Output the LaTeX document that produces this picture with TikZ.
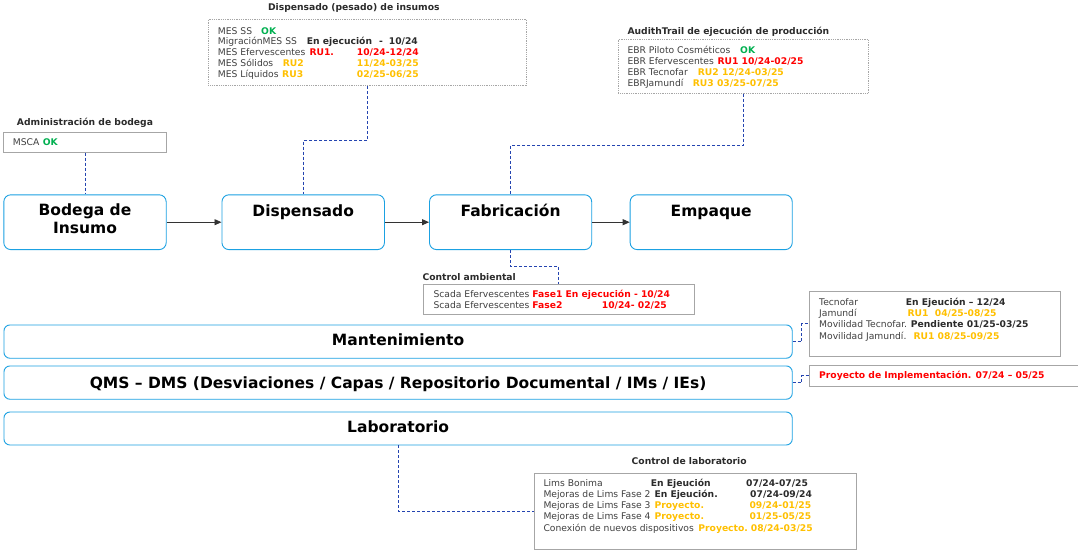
\documentclass[tikz,border=0pt]{standalone}
\usepackage{fontspec}
\setmainfont{DejaVu Sans}
\usetikzlibrary{arrows.meta}

\definecolor{boxblue}{HTML}{1BA1E2}
\definecolor{notegray}{HTML}{A6A6A6}
\definecolor{linkblue}{HTML}{2444B0}
\definecolor{arrowgray}{HTML}{333333}
\definecolor{labgray}{HTML}{404040}
\definecolor{darktxt}{HTML}{2B2B2B}
\definecolor{okgreen}{HTML}{00B050}
\definecolor{rured}{HTML}{FF0000}
\definecolor{ruorange}{HTML}{FFC000}

\newcommand{\fsmall}{\fontsize{9.2}{11}\selectfont}
\newcommand{\fbig}{\fontsize{15.5}{18}\selectfont\bfseries}

\tikzset{
  mainbox/.style={draw=boxblue, line width=0.9pt, rounded corners=7pt, fill=white, inner sep=0pt},
  notebox/.style={draw=notegray, line width=0.6pt, fill=white, inner sep=0pt},
  dotbox/.style={notebox, dash pattern=on 1pt off 0.8pt},
  ln/.style={anchor=west, inner sep=0pt, font=\fsmall, text=labgray, text height=6.7pt, text depth=0pt},
  okT/.style={ln, font=\fsmall\bfseries, text=okgreen},
  rT/.style={ln, font=\fsmall\bfseries, text=rured},
  oT/.style={ln, font=\fsmall\bfseries, text=ruorange},
  dT/.style={ln, font=\fsmall\bfseries, text=darktxt},
  hd/.style={inner sep=0pt, font=\fsmall\bfseries, text=darktxt, text height=6.7pt, text depth=0pt},
  bigT/.style={inner sep=0pt, font=\fbig, text=black, text height=11.3pt, text depth=0pt},
  link/.style={draw=linkblue, line width=0.8pt, dash pattern=on 3pt off 2pt},
  flow/.style={draw=arrowgray, line width=0.9pt, -{Triangle[length=7pt,width=6pt]}}
}

\begin{document}
\begin{tikzpicture}[x=1pt, y=-1pt]
\useasboundingbox[fill=white] (0,0) rectangle (1078,551);

% ---------- process chain ----------
\node[mainbox, minimum width=162.4pt, minimum height=54.8pt] (bodega) at (85,222.2) {};
\node[mainbox, minimum width=162.5pt, minimum height=54.8pt] (disp) at (303.2,222.2) {};
\node[mainbox, minimum width=162.2pt, minimum height=54.8pt] (fab) at (510.6,222.2) {};
\node[mainbox, minimum width=162.1pt, minimum height=54.8pt] (emp) at (711.2,222.2) {};

\node[bigT] (bodegaT1) at (85,210) {Bodega de};
\node[bigT] (bodegaT2) at (85,228.3) {Insumo};
\node[bigT] (dispT) at (303.2,210.7) {Dispensado};
\node[bigT] (fabT) at (510.6,210.7) {Fabricación};
\node[bigT] (empT) at (711.2,210.7) {Empaque};

\draw[flow] (bodega.east) -- (disp.west);
\draw[flow] (disp.east) -- (fab.west);
\draw[flow] (fab.east) -- (emp.west);

% ---------- support processes ----------
\node[mainbox, rounded corners=6pt, minimum width=788.3pt, minimum height=33.3pt] (mant) at (398.1,341.6) {};
\node[mainbox, rounded corners=6pt, minimum width=788.3pt, minimum height=33.3pt] (qms) at (398.1,382.6) {};
\node[mainbox, rounded corners=6pt, minimum width=788.3pt, minimum height=33pt] (lab) at (398.1,428.5) {};

\node[bigT] (mantT) at (398.1,340) {Mantenimiento};
\node[bigT] (qmsT) at (398.1,382.7) {QMS – DMS (Desviaciones / Capas / Repositorio Documental / IMs / IEs)};
\node[bigT] (labT) at (398.1,426.7) {Laboratorio};

% ---------- Administración de bodega ----------
\node[hd] (adminH) at (85,122.3) {Administración de bodega};
\node[notebox, minimum width=163pt, minimum height=20pt] (adminbox) at (85,142.3) {};
\node[ln] (a1) at (12.7,142.3) {MSCA};
\node[okT] (a1s) at (42.7,142.3) {OK};

% ---------- Dispensado (pesado) de insumos ----------
\node[hd] (dispH) at (353.8,7.3) {Dispensado (pesado) de insumos};
\node[dotbox, minimum width=318.4pt, minimum height=66.4pt] (dispbox) at (367.5,52.5) {};
\node[ln] (d1) at (217.7,30.8) {MES SS};
\node[okT] (d1s) at (261,30.8) {OK};
\node[ln] (d2) at (217.7,41.6) {MigraciónMES SS};
\node[dT] (d2s) at (306.7,41.6) {En ejecución};
\node[dT] (d2m) at (379,41.6) {-};
\node[dT] (d2d) at (388.7,41.6) {10/24};
\node[ln] (d3) at (217.7,52.4) {MES Efervescentes};
\node[rT] (d3s) at (309.3,52.4) {RU1.};
\node[rT] (d3d) at (356.7,52.4) {10/24-12/24};
\node[ln] (d4) at (217.7,63.2) {MES Sólidos};
\node[oT] (d4s) at (282.7,63.2) {RU2};
\node[oT] (d4d) at (356.7,63.2) {11/24-03/25};
\node[ln] (d5) at (217.7,74) {MES Líquidos};
\node[oT] (d5s) at (282,74) {RU3};
\node[oT] (d5d) at (356.7,74) {02/25-06/25};

% ---------- AudithTrail ----------
\node[hd, anchor=west] (audH) at (627.3,30.7) {AudithTrail de ejecución de producción};
\node[dotbox, minimum width=250pt, minimum height=54pt] (audbox) at (743.3,66.3) {};
\node[ln] (e1) at (627.3,50) {EBR Piloto Cosméticos};
\node[okT] (e1s) at (740,50) {OK};
\node[ln] (e2) at (627.3,61.4) {EBR Efervescentes};
\node[rT] (e2s) at (717.3,61.4) {RU1 10/24-02/25};
\node[ln] (e3) at (627.3,72.6) {EBR Tecnofar};
\node[oT] (e3s) at (697.7,72.6) {RU2 12/24-03/25};
\node[ln] (e4) at (627.3,83.6) {EBRJamundí};
\node[oT] (e4s) at (692.7,83.6) {RU3 03/25-07/25};

% ---------- Control ambiental ----------
\node[hd, anchor=west] (ambH) at (422.3,277.3) {Control ambiental};
\node[notebox, minimum width=270.7pt, minimum height=30.3pt] (ambbox) at (558.7,299.2) {};
\node[ln] (c1) at (433.3,294) {Scada Efervescentes};
\node[rT] (c1s) at (532.2,294) {Fase1 En ejecución - 10/24};
\node[ln] (c2) at (433.3,305) {Scada Efervescentes};
\node[rT] (c2s) at (532.2,305) {Fase2};
\node[rT] (c2d) at (601.7,305) {10/24- 02/25};

% ---------- Mantenimiento note ----------
\node[notebox, minimum width=250.7pt, minimum height=65pt] (mantbox) at (934.7,323.5) {};
\node[ln] (m1) at (819,301.7) {Tecnofar};
\node[dT] (m1s) at (905.7,301.7) {En Ejeución – 12/24};
\node[ln] (m2) at (819,312.7) {Jamundí};
\node[oT] (m2s) at (907.3,312.7) {RU1\ \ 04/25-08/25};
\node[ln] (m3) at (819,324) {Movilidad Tecnofar.};
\node[dT] (m3s) at (910.7,324) {Pendiente 01/25-03/25};
\node[ln] (m4) at (819,335.7) {Movilidad Jamundí.};
\node[oT] (m4s) at (913.3,335.7) {RU1 08/25-09/25};

% ---------- QMS note ----------
\node[notebox, minimum width=280.7pt, minimum height=21pt] (proybox) at (949.7,375.5) {};
\node[rT] (p1) at (819,375.5) {Proyecto de Implementación. 07/24 – 05/25};

% ---------- Control de laboratorio ----------
\node[hd] (labH) at (689.2,460.7) {Control de laboratorio};
\node[notebox, minimum width=322.4pt, minimum height=76pt] (labbox) at (695.5,511.3) {};
\node[ln] (l1) at (543.3,483.3) {Lims Bonima};
\node[dT] (l1s) at (650.7,483.3) {En Ejeución};
\node[dT] (l1d) at (746,483.3) {07/24-07/25};
\node[ln] (l2) at (543.3,494.3) {Mejoras de Lims Fase 2};
\node[dT] (l2s) at (654.3,494.3) {En Ejeución.};
\node[dT] (l2d) at (750,494.3) {07/24-09/24};
\node[ln] (l3) at (543.3,505.3) {Mejoras de Lims Fase 3};
\node[oT] (l3s) at (654.3,505.3) {Proyecto.};
\node[oT] (l3d) at (749.3,505.3) {09/24-01/25};
\node[ln] (l4) at (543.3,516.3) {Mejoras de Lims Fase 4};
\node[oT] (l4s) at (654.3,516.3) {Proyecto.};
\node[oT] (l4d) at (749.3,516.3) {01/25-05/25};
\node[ln] (l5) at (543.3,528.5) {Conexión de nuevos dispositivos};
\node[oT] (l5s) at (698.2,528.5) {Proyecto.};
\node[oT] (l5d) at (750.7,528.5) {08/24-03/25};

% ---------- dashed links ----------
\draw[link] (adminbox.south) -- (bodega.north);
\draw[link] (dispbox.south) -- ++(0,54.5) -| (disp.north);
\draw[link] (audbox.south) -- ++(0,51.7) -| (fab.north);
\draw[link] (fab.south) -- ++(0,16.4) -| (ambbox.north);
\draw[link] (mant.east) -- ++(9,0) |- (mantbox.west);
\draw[link] (qms.east) -- ++(9,0) |- (proybox.west);
\draw[link] (lab.south) |- (labbox.west);
\end{tikzpicture}
\end{document}
